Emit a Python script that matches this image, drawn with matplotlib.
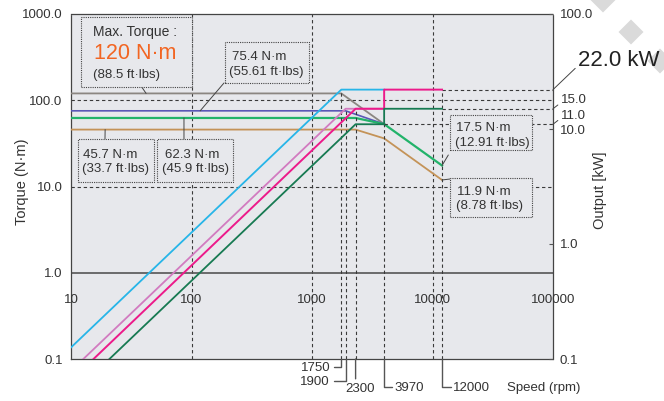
import matplotlib
matplotlib.use("Agg")
import matplotlib.pyplot as plt
import matplotlib.transforms as mtransforms
from matplotlib.patches import Rectangle, Polygon
from matplotlib.ticker import NullLocator

plt.rcParams["font.family"] = ["Liberation Sans", "DejaVu Sans"]

# ---- torque curves (N·m) against speed (rpm) ----
speed_t120 = [10, 1750, 3970]
torque_t120 = [120.0, 120.0, 52.9]
speed_t754 = [10, 1900, 3970]
torque_t754 = [75.4, 75.4, 52.9]
speed_t623 = [10, 2300, 3970, 12000]
torque_t623 = [62.3, 62.3, 52.9, 17.5]
speed_t457 = [10, 2300, 3970, 12000]
torque_t457 = [45.7, 45.7, 36.1, 11.9]

# ---- output curves (kW) against speed (rpm) ----
speed_p220 = [10, 1750, 3970]
power_p220 = [0.126, 22.0, 22.0]
speed_p150a = [10, 1900, 3970]
power_p150a = [0.079, 15.0, 15.0]
speed_p150b = [10, 2300, 3970, 3970, 12000]
power_p150b = [0.065, 15.0, 15.0, 22.0, 22.0]
speed_p110 = [10, 2300, 3970, 3970, 12000]
power_p110 = [0.048, 11.0, 11.0, 15.0, 15.0]

# characteristic speeds and their guide heights (kW)
key_speeds = [1750, 1900, 2300, 3970, 12000]
key_speed_tops = [22.0, 15.0, 15.0, 11.0, 22.0]
key_speed_labels = ["1750", "1900", "2300", "3970", "12000"]

# output levels marked on the right axis
power_levels = [22.0, 15.0, 11.0]
power_level_start = [12000, 12000, 3970]

x_ticks = [10, 100, 1000, 10000, 100000]
x_tick_labels = ["10", "100", "1000", "10000", "100000"]
torque_ticks = [0.1, 1, 10, 100, 1000]
torque_tick_labels = ["0.1", "1.0", "10.0", "100.0", "1000.0"]
power_ticks = [0.1, 1, 10, 100]
power_tick_labels = ["0.1", "1.0", "10.0", "100.0"]

BG = "#e7e8ec"
INK = "#333333"
GRID = dict(colors="#3a3a3a", linewidths=0.8, linestyles=(0, (3, 2.5)))

C_GRAY = "#8b8681"
C_PURPLE = "#5a58b6"
C_GREEN = "#22b36a"
C_TAN = "#c49358"
C_CYAN = "#27b5e8"
C_ORCHID = "#d27bc0"
C_PINK = "#ec1a8a"
C_DKGREEN = "#177a52"
C_ORANGE = "#f26522"

fig = plt.figure(figsize=(6.64, 4.01), dpi=100)

# faint decorative diamonds at the top right
for cx, cy in [(603, 0), (631, 32), (660, 61)]:
    h = 12.5
    pts = [((cx) / 100, (401 - cy + h) / 100), ((cx + h) / 100, (401 - cy) / 100),
           ((cx) / 100, (401 - cy - h) / 100), ((cx - h) / 100, (401 - cy) / 100)]
    fig.patches.append(Polygon(pts, closed=True, transform=fig.dpi_scale_trans,
                               facecolor="#dadada", edgecolor="none", zorder=-1))

ax = fig.add_axes([71 / 664, 1 - 359 / 401, 482 / 664, 345 / 401])
ax2 = ax.twinx()

ax.set_xscale("log")
ax.set_yscale("log")
ax.set_xlim(10, 100000)
ax.set_ylim(0.1, 1000)
ax2.set_yscale("log")
ax2.set_ylim(0.1, 100)
ax.set_facecolor(BG)
ax2.patch.set_visible(False)

for s in ax.spines.values():
    s.set_linestyle((0, (1, 1)))
    s.set_color("#444444")
    s.set_linewidth(0.9)
for s in ax2.spines.values():
    s.set_visible(False)

ax.set_xticks([])
ax.xaxis.set_minor_locator(NullLocator())
ax.yaxis.set_minor_locator(NullLocator())
ax2.yaxis.set_minor_locator(NullLocator())

ax.set_yticks(torque_ticks)
ax.set_yticklabels(torque_tick_labels)
ax.tick_params(axis="y", length=0, pad=6, labelsize=9.5, labelcolor=INK)
ax2.set_yticks(power_ticks)
ax2.set_yticklabels(power_tick_labels)
ax2.tick_params(axis="y", direction="in", length=3, width=0.8, color="#555555",
                pad=5, labelsize=9.5, labelcolor=INK)

# speed tick labels sit inside the plot, just under the 1.0 line
xlab_tr = mtransforms.blended_transform_factory(ax.transData, ax.transAxes)
for xv, lab in zip(x_ticks, x_tick_labels):
    ax2.text(xv, 0.171, lab, transform=xlab_tr, ha="center", va="center",
             fontsize=9.5, color=INK, zorder=7, clip_on=False)

# grid
ax.vlines([100, 1000, 10000], 0.1, 1000, zorder=1, **GRID)
ax.hlines([10, 100], 10, 100000, zorder=1, **GRID)
ax.axhline(1.0, color="#555555", lw=1.2, zorder=1.5)
ax2.vlines(key_speeds, 0.1, key_speed_tops, zorder=1, **GRID)
ax2.hlines(power_levels, power_level_start, 100000, zorder=1, **GRID)

# torque curves
ax.plot(speed_t120, torque_t120, color=C_GRAY, lw=1.3, zorder=3)
ax.plot(speed_t754, torque_t754, color=C_PURPLE, lw=1.2, zorder=3)
ax.plot(speed_t623, torque_t623, color=C_GREEN, lw=1.6, zorder=3)
ax.plot(speed_t457, torque_t457, color=C_TAN, lw=1.3, zorder=3)

# output curves
ax2.plot(speed_p220, power_p220, color=C_CYAN, lw=1.3, zorder=3)
ax2.plot(speed_p150a, power_p150a, color=C_ORCHID, lw=1.3, zorder=3)
ax2.plot(speed_p150b, power_p150b, color=C_PINK, lw=1.4, zorder=3)
ax2.plot(speed_p110, power_p110, color=C_DKGREEN, lw=1.3, zorder=3)

# callout boxes
def box(x0, y0, w, h):
    ax2.add_patch(Rectangle((x0, y0), w, h, transform=ax2.transAxes, facecolor=BG,
                            edgecolor="#444444", lw=0.8, ls=(0, (1, 1)), zorder=5,
                            clip_on=False))

def label(x, y, s, **kw):
    kw.setdefault("fontsize", 9.5)
    kw.setdefault("color", INK)
    ax2.text(x, y, s, transform=ax2.transAxes, ha="left", va="center", zorder=6, **kw)

LEAD = dict(arrowstyle="-", color="#444444", lw=0.7, shrinkA=0, shrinkB=0)

def leader(xy_data, xy_axes):
    ax2.annotate("", xy=xy_data, xycoords=ax.transData, xytext=xy_axes,
                 textcoords=ax2.transAxes, arrowprops=LEAD, zorder=4,
                 annotation_clip=False)

box(0.0207, 0.7884, 0.2303, 0.2029)
label(0.0456, 0.948, "Max. Torque :", fontsize=10)
label(0.0470, 0.886, "120 N·m", fontsize=15.5, color=C_ORANGE)
label(0.0456, 0.823, "(88.5 ft·lbs)", fontsize=9.5)
leader((42, 120.0), (0.1467, 0.7884))

box(0.3195, 0.800, 0.1743, 0.1188)
label(0.334, 0.875, "75.4 N·m")
label(0.328, 0.832, "(55.61 ft·lbs)")
leader((118, 75.4), (0.3174, 0.800))

box(0.0145, 0.5130, 0.1577, 0.1246)
label(0.0249, 0.591, "45.7 N·m")
label(0.0228, 0.551, "(33.7 ft·lbs)")
leader((19.2, 45.7), (0.0705, 0.6376))

box(0.1784, 0.5130, 0.1577, 0.1246)
label(0.195, 0.591, "62.3 N·m")
label(0.189, 0.551, "(45.9 ft·lbs)")
leader((86.6, 62.3), (0.2344, 0.6376))

box(0.7863, 0.6058, 0.1701, 0.1014)
label(0.799, 0.670, "17.5 N·m")
label(0.797, 0.626, "(12.91 ft·lbs)")
leader((12000, 17.5), (0.7828, 0.5913))

box(0.7863, 0.4116, 0.1701, 0.1130)
label(0.801, 0.485, "11.9 N·m")
label(0.799, 0.443, "(8.78 ft·lbs)")
leader((12000, 11.9), (0.7863, 0.5217))

# output level call-outs at the right edge
RLEAD = dict(arrowstyle="-", color="#444444", lw=0.7, shrinkA=0, shrinkB=0)
ax2.annotate("22.0 kW", xy=(100000, 22.0), xytext=(18, 21), textcoords="offset points",
             ha="left", va="center", fontsize=16, color="#222222", zorder=6,
             annotation_clip=False,
             arrowprops=dict(RLEAD, relpos=(0.0, 0.25)))
ax2.annotate("15.0", xy=(100000, 15.0), xytext=(5.5, 6), textcoords="offset points",
             ha="left", va="center", fontsize=9.5, color=INK, zorder=6,
             annotation_clip=False,
             arrowprops=dict(RLEAD, relpos=(0.0, 0.3)))
ax2.annotate("11.0", xy=(100000, 11.0), xytext=(5.5, 6), textcoords="offset points",
             ha="left", va="center", fontsize=9.5, color=INK, zorder=6,
             annotation_clip=False,
             arrowprops=dict(RLEAD, relpos=(0.0, 0.3)))

# speed call-outs under the axis
bottom_tr = mtransforms.blended_transform_factory(ax.transData, ax.transAxes)
SLEAD = dict(arrowstyle="-", color="#555555", lw=1.0, shrinkA=1, shrinkB=0)
offsets = [(-8.0, -6.5), (-11.2, -16.6), (3.2, -21.6), (7.5, -21.0), (8.2, -21.0)]
for sp, lab, (dx, dy) in zip(key_speeds, key_speed_labels, offsets):
    if dx < 0:
        kw = dict(ha="right", arrowprops=dict(SLEAD, relpos=(1.0, 0.62),
                  connectionstyle="angle,angleA=0,angleB=90,rad=0"))
    elif lab == "2300":
        kw = dict(ha="center", arrowprops=dict(SLEAD, relpos=(0.35, 1.0)))
    else:
        kw = dict(ha="left", arrowprops=dict(SLEAD, relpos=(0.0, 0.62), shrinkA=0,
                  connectionstyle="angle,angleA=0,angleB=90,rad=0"))
    ax2.annotate(lab, xy=(sp, 0.0), xycoords=bottom_tr, xytext=(dx, dy),
                 textcoords="offset points", va="center", fontsize=9.5, color=INK,
                 annotation_clip=False, **kw)

fig.text(507 / 664, 1 - 388 / 401, "Speed (rpm)", ha="left", va="center",
         fontsize=9.5, color=INK)
fig.text(22 / 664, 1 - 182 / 401, "Torque (N·m)", rotation=90, ha="center",
         va="center", fontsize=10.5, color=INK)
fig.text(600 / 664, 1 - 190 / 401, "Output [kW]", rotation=90, ha="center",
         va="center", fontsize=10.5, color=INK)

fig.savefig("out.png", dpi=100)
